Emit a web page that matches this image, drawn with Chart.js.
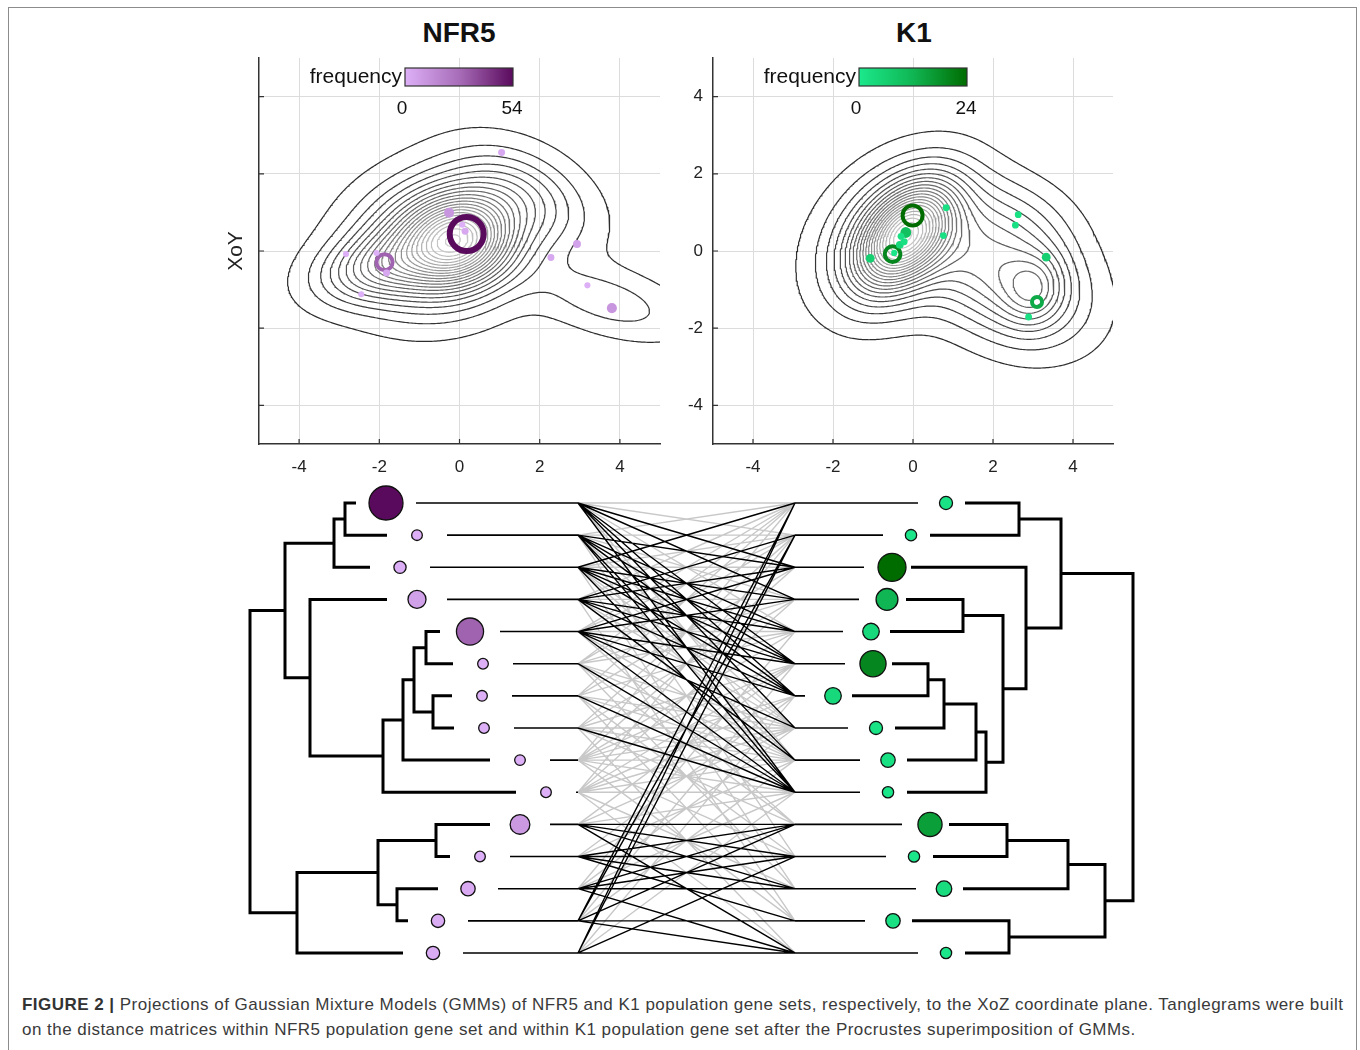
<!DOCTYPE html>
<html>
<head>
<meta charset="utf-8">
<script src="https://cdn.jsdelivr.net/npm/chart.js@4.4.1/dist/chart.umd.min.js"></script>
<style>
  body { margin: 0; width: 1360px; height: 1050px; overflow: hidden; position: relative; background: #fff;
         font-family: "Liberation Sans", Arial, Helvetica, sans-serif; }
  #frame { position: absolute; left: 8px; top: 7px; width: 1347px; height: 1100px; border: 1px solid #8c8c8c; }
  canvas { position: absolute; }
  .ttl { position: absolute; top: 17px; font-weight: bold; font-size: 28px; color: #111; transform: translateX(-50%); }
  #cap { position: absolute; left: 22px; top: 992px; font-size: 17px; letter-spacing: 0.47px; line-height: 25px; color: #3a3a3a; white-space: nowrap; }
  #cap b { color: #333; }
</style>
</head>
<body>
<div id="frame"></div>
<div class="ttl" style="left:459px">NFR5</div>
<div class="ttl" style="left:914px">K1</div>
<canvas id="nfr" width="470" height="460" style="left:200px;top:40px"></canvas>
<canvas id="k1" width="470" height="460" style="left:655px;top:40px"></canvas>
<canvas id="tangle" width="910" height="490" style="left:240px;top:480px"></canvas>
<div id="cap"><b>FIGURE 2 |</b> Projections of Gaussian Mixture Models (GMMs) of NFR5 and K1 population gene sets, respectively, to the XoZ coordinate plane. Tanglegrams were built<br>on the distance matrices within NFR5 population gene set and within K1 population gene set after the Procrustes superimposition of GMMs.</div>

<script>
// ---------- axes
const xTickVals = [-4, -2, 0, 2, 4];
const yTickVals = [-4, -2, 0, 2, 4];

// ---------- NFR5 mixture components
const nfrMuX = [0.0, -0.4, -2.1, 3.7, 1.6];
const nfrMuY = [0.3, 0.25, -0.45, -1.3, 1.4];
const nfrSx = [0.8, 1.3, 1.0, 1.3, 1.1];
const nfrSy = [0.7, 1.05, 0.6, 0.65, 0.85];
const nfrRho = [0.1, 0.15, 0.3, -0.5, -0.4];
const nfrW = [0.16, 0.45, 0.08, 0.045, 0.08];
const nfrOuterAt = [0.5, 3.2]; // outermost contour passes here

// NFR5 gene points
const nfrPtX = [0.18, -1.87, -0.26, 3.8, 2.93, 0.14, -1.82, 1.05, 2.28, 0.07, -2.83, -2.07, -2.45, 3.19];
const nfrPtY = [0.44, -0.29, 0.99, -1.48, 0.18, 0.51, -0.57, 2.55, -0.17, 0.68, -0.08, -0.05, -1.12, -0.89];
const nfrPtFreq = [54, 30, 13, 13, 8, 5, 5, 5, 5, 1, 1, 1, 1, 1];
const nfrMaxFreq = 54;

// ---------- K1 mixture components
const k1MuX = [-0.2, -0.3, 3.05, 2.3, 2.6];
const k1MuY = [0.4, 0.4, -1.0, -0.7, 0.8];
const k1Sx = [0.75, 1.2, 0.5, 1.3, 1.0];
const k1Sy = [0.85, 1.2, 0.6, 1.1, 0.8];
const k1Rho = [0.45, 0.3, 0.1, -0.3, -0.2];
const k1W = [0.25, 0.35, 0.035, 0.3, 0.05];
const k1OuterAt = [0.5, 3.1];

const k1PtX = [-0.01, -0.51, 3.1, -0.18, -1.07, 3.33, -0.33, -0.3, -0.22, 0.83, 0.76, 2.63, 2.56, 2.89, -0.47];
const k1PtY = [0.92, -0.08, -1.32, 0.48, -0.19, -0.16, 0.16, 0.38, 0.24, 1.12, 0.4, 0.94, 0.67, -1.71, -0.05];
const k1PtFreq = [24, 20, 14, 10, 7, 7, 5, 3, 3, 3, 3, 3, 3, 3, 1];
const k1MaxFreq = 24;

// ---------- tanglegram
// leaf heights, frequencies and merges [childA, childB, height]; nodes 16.. are merges
const nfrLeafPos = [14.6, 17.7, 16.0, 17.7, 23.0, 24.3, 24.2, 24.4, 28.0, 30.6, 28.0, 24.0, 22.8, 19.8, 19.3];
const nfrLeafFreq = [54, 1, 2, 9, 30, 1, 1, 1, 1, 1, 12, 1, 4, 3, 3];
const nfrMerges = [[1, 2, 10.5], [16, 3, 9.4], [5, 6, 18.6], [7, 8, 19.3], [18, 19, 17.4], [20, 9, 16.3], [21, 10, 14.3],
  [4, 22, 7.0], [17, 23, 4.5], [11, 12, 19.6], [13, 14, 15.7], [25, 26, 13.8], [27, 15, 5.7], [24, 28, 1.0]];

const k1LeafPos = [70.6, 67.1, 65.2, 64.7, 63.1, 63.3, 59.3, 63.6, 64.8, 64.8, 69.0, 67.4, 70.4, 65.3, 70.6];
const k1LeafFreq = [2, 1, 24, 12, 5, 20, 5, 2, 3, 1, 16, 1, 4, 3, 1];
const k1Merges = [[1, 2, 77.9], [4, 5, 72.3], [6, 7, 68.8], [18, 8, 70.4], [19, 9, 73.6], [20, 10, 74.6], [17, 21, 76.3],
  [3, 22, 78.6], [16, 23, 82.1], [11, 12, 76.7], [25, 13, 82.8], [14, 15, 76.9], [26, 27, 86.5], [24, 28, 89.3]];

// links [left leaf, right leaf]
const blackLinks = [[1, 3], [1, 4], [1, 6], [1, 7], [1, 8], [1, 10], [2, 3], [2, 5], [2, 6], [2, 7], [2, 9], [2, 10],
  [3, 1], [3, 4], [3, 5], [3, 6], [3, 7], [3, 10], [4, 2], [4, 3], [4, 5], [4, 6], [4, 7], [4, 9],
  [5, 3], [5, 4], [5, 6], [5, 7], [5, 8], [5, 10], [6, 10], [7, 10], [8, 10],
  [11, 11], [11, 12], [11, 13], [11, 15], [12, 11], [12, 12], [12, 13], [12, 14], [13, 11], [13, 12], [13, 13], [13, 15],
  [14, 1], [14, 2], [14, 11], [14, 14], [14, 15], [15, 1], [15, 2], [15, 12], [15, 15]];
const greyLinks = [[6, 1], [6, 2], [6, 4], [6, 5], [6, 8], [6, 9], [6, 11], [6, 13],
  [7, 1], [7, 3], [7, 5], [7, 8], [7, 9], [7, 12], [7, 14], [8, 2], [8, 4], [8, 6], [8, 8], [8, 9], [8, 11], [8, 15],
  [9, 1], [9, 3], [9, 5], [9, 6], [9, 7], [9, 8], [9, 9], [9, 10], [9, 12], [9, 14],
  [10, 2], [10, 4], [10, 6], [10, 7], [10, 8], [10, 9], [10, 10], [10, 13], [10, 15],
  [1, 1], [1, 2], [1, 5], [1, 9], [2, 1], [2, 2], [2, 4], [2, 8], [2, 12], [3, 2], [3, 3], [3, 8], [3, 9], [3, 13],
  [4, 1], [4, 4], [4, 8], [4, 14], [5, 1], [5, 2], [5, 5], [5, 9], [5, 11],
  [11, 6], [11, 8], [11, 10], [12, 7], [12, 9], [13, 5], [13, 8], [13, 10], [14, 6], [14, 9], [15, 7], [15, 10]];

// ---------- helpers
const FONT = '"Liberation Sans", Arial, Helvetica, sans-serif';
const purpleLo = [221, 176, 247], purpleHi = [90, 10, 92];
const greenLo = [27, 232, 140], greenHi = [0, 108, 0];

function mix(c0, c1, t) {
  t = Math.pow(Math.max(0, Math.min(1, t)), 1.3);
  return 'rgb(' + c0.map((v, i) => Math.round(v + (c1[i] - v) * t)).join(',') + ')';
}

function gmm(mx, my, sx, sy, rho, w) {
  return function (x, y) {
    let s = 0;
    for (let k = 0; k < mx.length; k++) {
      const dx = (x - mx[k]) / sx[k], dy = (y - my[k]) / sy[k], r = rho[k];
      const q = (dx * dx - 2 * r * dx * dy + dy * dy) / (1 - r * r);
      s += w[k] * Math.exp(-q / 2) / (2 * Math.PI * sx[k] * sy[k] * Math.sqrt(1 - r * r));
    }
    return s;
  };
}

// marching squares, segments chained into polylines
const CASES = {1: [[3, 0]], 2: [[0, 1]], 3: [[3, 1]], 4: [[1, 2]], 5: [[3, 2], [0, 1]], 6: [[0, 2]], 7: [[3, 2]],
  8: [[2, 3]], 9: [[0, 2]], 10: [[0, 3], [1, 2]], 11: [[1, 2]], 12: [[1, 3]], 13: [[0, 1]], 14: [[0, 3]]};

function contourLines(grid, n, x0, h, level) {
  const pts = new Map();
  const segs = [];
  function edge(i, j, e) {
    let key, ia, ja, ib, jb;
    if (e === 0) { key = (j * n + i) * 2; ia = i; ja = j; ib = i + 1; jb = j; }
    else if (e === 2) { key = ((j + 1) * n + i) * 2; ia = i; ja = j + 1; ib = i + 1; jb = j + 1; }
    else if (e === 3) { key = (j * n + i) * 2 + 1; ia = i; ja = j; ib = i; jb = j + 1; }
    else { key = (j * n + i + 1) * 2 + 1; ia = i + 1; ja = j; ib = i + 1; jb = j + 1; }
    if (!pts.has(key)) {
      const va = grid[ja][ia], vb = grid[jb][ib];
      const t = (level - va) / (vb - va);
      pts.set(key, {x: x0 + (ia + (ib - ia) * t) * h, y: x0 + (ja + (jb - ja) * t) * h});
    }
    return key;
  }
  for (let j = 0; j < n - 1; j++) {
    for (let i = 0; i < n - 1; i++) {
      const c = (grid[j][i] > level ? 1 : 0) | (grid[j][i + 1] > level ? 2 : 0) |
        (grid[j + 1][i + 1] > level ? 4 : 0) | (grid[j + 1][i] > level ? 8 : 0);
      const list = CASES[c];
      if (!list) continue;
      for (const p of list) segs.push([edge(i, j, p[0]), edge(i, j, p[1])]);
    }
  }
  const adj = new Map();
  segs.forEach((s, idx) => {
    for (const k of s) { if (!adj.has(k)) adj.set(k, []); adj.get(k).push(idx); }
  });
  const used = new Uint8Array(segs.length);
  const lines = [];
  function walk(start) {
    const out = [];
    let cur = start;
    while (true) {
      const cand = (adj.get(cur) || []).find(s => !used[s]);
      if (cand === undefined) break;
      used[cand] = 1;
      cur = segs[cand][0] === cur ? segs[cand][1] : segs[cand][0];
      out.push(cur);
    }
    return out;
  }
  for (let s = 0; s < segs.length; s++) {
    if (used[s]) continue;
    used[s] = 1;
    const fwd = walk(segs[s][1]);
    const back = walk(segs[s][0]);
    const keys = back.reverse().concat([segs[s][0], segs[s][1]], fwd);
    lines.push(keys.map(k => pts.get(k)));
  }
  return lines;
}

function contourDatasets(f, outerAt, nLevels) {
  const n = 276, x0 = -5.5, h = 0.04;
  const grid = [];
  let vmax = 0;
  for (let j = 0; j < n; j++) {
    const row = new Float64Array(n);
    for (let i = 0; i < n; i++) { row[i] = f(x0 + i * h, x0 + j * h); if (row[i] > vmax) vmax = row[i]; }
    grid.push(row);
  }
  const lo = f(outerAt[0], outerAt[1]), hi = vmax * 0.985;
  const sets = [];
  for (let k = 0; k < nLevels; k++) {
    const lev = lo + (hi - lo) * k / (nLevels - 1);
    const data = [];
    contourLines(grid, n, x0, h, lev).forEach(line => { data.push(...line, {x: null, y: null}); });
    const g = Math.round(45 + (205 - 45) * k / (nLevels - 1));
    sets.push({data, showLine: true, pointRadius: 0, borderWidth: 1.2, borderColor: `rgb(${g},${g},${g})`,
      spanGaps: false, tension: 0});
  }
  return sets;
}

function pointDataset(xs, ys, freq, maxF, span, lo, hi) {
  const data = xs.map((x, i) => ({x, y: ys[i]}));
  const outer = freq.map(f => 3 + span * Math.pow(f / maxF, 1.5));
  const ring = freq.map(f => f / maxF >= 0.5);
  const lw = outer.map(o => Math.max(4, o * 0.3));
  const col = freq.map(f => mix(lo, hi, f / maxF));
  return {
    data, showLine: false,
    pointRadius: outer.map((o, i) => ring[i] ? o - lw[i] / 2 : o),
    pointBorderWidth: outer.map((o, i) => ring[i] ? lw[i] : 0),
    pointBorderColor: col,
    pointBackgroundColor: col.map((c, i) => ring[i] ? 'rgba(0,0,0,0)' : c)
  };
}

// frequency colour bar drawn inside the plot area
const colorbarPlugin = {
  id: 'colorbar',
  afterDatasetsDraw(chart, args, o) {
    const a = chart.chartArea, ctx = chart.ctx;
    const x0 = a.left + 146, x1 = a.left + 254, y0 = a.top + 10, y1 = a.top + 28;
    ctx.save();
    const grad = ctx.createLinearGradient(x0, 0, x1, 0);
    grad.addColorStop(0, mix(o.lo, o.hi, 0));
    grad.addColorStop(0.5, mix(o.lo, o.hi, 0.5));
    grad.addColorStop(1, mix(o.lo, o.hi, 1));
    ctx.fillStyle = grad;
    ctx.fillRect(x0, y0, x1 - x0, y1 - y0);
    ctx.strokeStyle = '#333';
    ctx.lineWidth = 1.2;
    ctx.strokeRect(x0, y0, x1 - x0, y1 - y0);
    ctx.fillStyle = '#111';
    ctx.textBaseline = 'middle';
    ctx.font = '21px ' + FONT;
    ctx.textAlign = 'right';
    ctx.fillText('frequency', x0 - 3, (y0 + y1) / 2);
    ctx.font = '19px ' + FONT;
    ctx.textAlign = 'center';
    ctx.fillText('0', x0 - 3, a.top + 51);
    ctx.fillText(String(o.max), x1 - 1, a.top + 51);
    ctx.restore();
  }
};

// short inward tick marks on the left and bottom axes
const innerTicks = {
  id: 'innerTicks',
  afterDraw(chart) {
    const a = chart.chartArea, ctx = chart.ctx;
    ctx.save();
    ctx.strokeStyle = '#333';
    ctx.lineWidth = 1.2;
    ctx.beginPath();
    xTickVals.forEach(v => { const p = chart.scales.x.getPixelForValue(v); ctx.moveTo(p, a.bottom); ctx.lineTo(p, a.bottom - 5); });
    yTickVals.forEach(v => { const p = chart.scales.y.getPixelForValue(v); ctx.moveTo(a.left, p); ctx.lineTo(a.left + 5, p); });
    ctx.stroke();
    ctx.restore();
  }
};

function noPad(s) { s.paddingLeft = 0; s.paddingRight = 0; s.paddingTop = 0; s.paddingBottom = 0; }

function contourChart(id, f, outerAt, pts, cb, showYLabels) {
  const axisFont = {size: 17, family: FONT};
  new Chart(document.getElementById(id), {
    type: 'scatter',
    data: {datasets: [pts, ...contourDatasets(f, outerAt, 22)]},
    plugins: [colorbarPlugin, innerTicks],
    options: {
      responsive: false, animation: false, events: [],
      layout: {autoPadding: false, padding: {left: 0, right: id === 'nfr' ? 10 : 12, top: 18, bottom: 0}},
      plugins: {legend: {display: false}, tooltip: {enabled: false}, colorbar: cb},
      scales: {
        x: {
          type: 'linear', min: -5, max: 5,
          afterBuildTicks: s => { s.ticks = xTickVals.map(v => ({value: v})); },
          afterFit: s => { s.height = 56; noPad(s); },
          grid: {color: '#dcdcdc', lineWidth: 1, drawTicks: false},
          border: {color: '#333', width: 1.5},
          ticks: {padding: 13, color: '#222', font: axisFont}
        },
        y: {
          type: 'linear', min: -5, max: 5,
          afterBuildTicks: s => { s.ticks = yTickVals.map(v => ({value: v})); },
          afterFit: s => { s.width = id === 'nfr' ? 59 : 58; noPad(s); },
          grid: {color: '#dcdcdc', lineWidth: 1, drawTicks: false},
          border: {color: '#333', width: 1.5},
          ticks: {display: showYLabels, padding: 10, color: '#222', font: axisFont},
          title: {display: !showYLabels, text: 'XoY', color: '#222', font: {size: 21, family: FONT}, padding: {top: 24, bottom: 0}}
        }
      }
    }
  });
}

contourChart('nfr', gmm(nfrMuX, nfrMuY, nfrSx, nfrSy, nfrRho, nfrW), nfrOuterAt,
  pointDataset(nfrPtX, nfrPtY, nfrPtFreq, nfrMaxFreq, 17, purpleLo, purpleHi),
  {lo: purpleLo, hi: purpleHi, max: nfrMaxFreq}, false);
contourChart('k1', gmm(k1MuX, k1MuY, k1Sx, k1Sy, k1Rho, k1W), k1OuterAt,
  pointDataset(k1PtX, k1PtY, k1PtFreq, k1MaxFreq, 9, greenLo, greenHi),
  {lo: greenLo, hi: greenHi, max: k1MaxFreq}, true);

// ---------- tanglegram
const LINK_L = 33.8, LINK_R = 55.5;

function dendroData(leafPos, merges, leafGap) {
  const nx = leafPos.map(p => p + leafGap), ny = leafPos.map((p, i) => i + 1);
  const data = [];
  merges.forEach(([a, b, hgt]) => {
    const xa = nx[a - 1], ya = ny[a - 1], xb = nx[b - 1], yb = ny[b - 1];
    data.push({x: xa, y: ya}, {x: hgt, y: ya}, {x: hgt, y: yb}, {x: xb, y: yb}, {x: null, y: null});
    nx.push(hgt); ny.push((ya + yb) / 2);
  });
  return data;
}

function leafCircles(leafPos, freq, maxF, span, lo, hi) {
  return {
    data: leafPos.map((p, i) => ({x: p, y: i + 1})), showLine: false, clip: false,
    pointRadius: freq.map(f => 3.5 + span * Math.sqrt(f / maxF)),
    pointBackgroundColor: freq.map(f => mix(lo, hi, f / maxF)),
    pointBorderColor: '#111', pointBorderWidth: 1.3
  };
}

const leafLines = [];
nfrLeafPos.forEach((p, i) => leafLines.push({x: p + 3.0, y: i + 1}, {x: LINK_L, y: i + 1}, {x: null, y: null}));
k1LeafPos.forEach((p, i) => leafLines.push({x: LINK_R, y: i + 1}, {x: p - 2.8, y: i + 1}, {x: null, y: null}));

function linkData(pairs) {
  const d = [];
  pairs.forEach(([l, r]) => d.push({x: LINK_L, y: l}, {x: LINK_R, y: r}, {x: null, y: null}));
  return d;
}

new Chart(document.getElementById('tangle'), {
  type: 'scatter',
  data: {
    datasets: [
      leafCircles(nfrLeafPos, nfrLeafFreq, nfrMaxFreq, 13.5, purpleLo, purpleHi),
      leafCircles(k1LeafPos, k1LeafFreq, k1MaxFreq, 10.5, greenLo, greenHi),
      {data: dendroData(nfrLeafPos, nfrMerges, -3.0), showLine: true, pointRadius: 0, borderWidth: 3, borderColor: '#000',
        borderJoinStyle: 'miter', clip: false},
      {data: dendroData(k1LeafPos, k1Merges, 1.9), showLine: true, pointRadius: 0, borderWidth: 3, borderColor: '#000',
        borderJoinStyle: 'miter', clip: false},
      {data: leafLines, showLine: true, pointRadius: 0, borderWidth: 1.6, borderColor: '#000', clip: false},
      {data: linkData(blackLinks), showLine: true, pointRadius: 0, borderWidth: 1.4, borderColor: '#000', clip: false},
      {data: linkData(greyLinks), showLine: true, pointRadius: 0, borderWidth: 1.4, borderColor: '#c8c8c8', clip: false}
    ]
  },
  options: {
    responsive: false, animation: false, events: [],
    layout: {autoPadding: false, padding: 0},
    plugins: {legend: {display: false}, tooltip: {enabled: false}},
    scales: {
      x: {type: 'linear', min: 0, max: 91, display: false},
      y: {type: 'linear', min: 0.2844, max: 15.53, reverse: true, display: false}
    }
  }
});
</script>
</body>
</html>
